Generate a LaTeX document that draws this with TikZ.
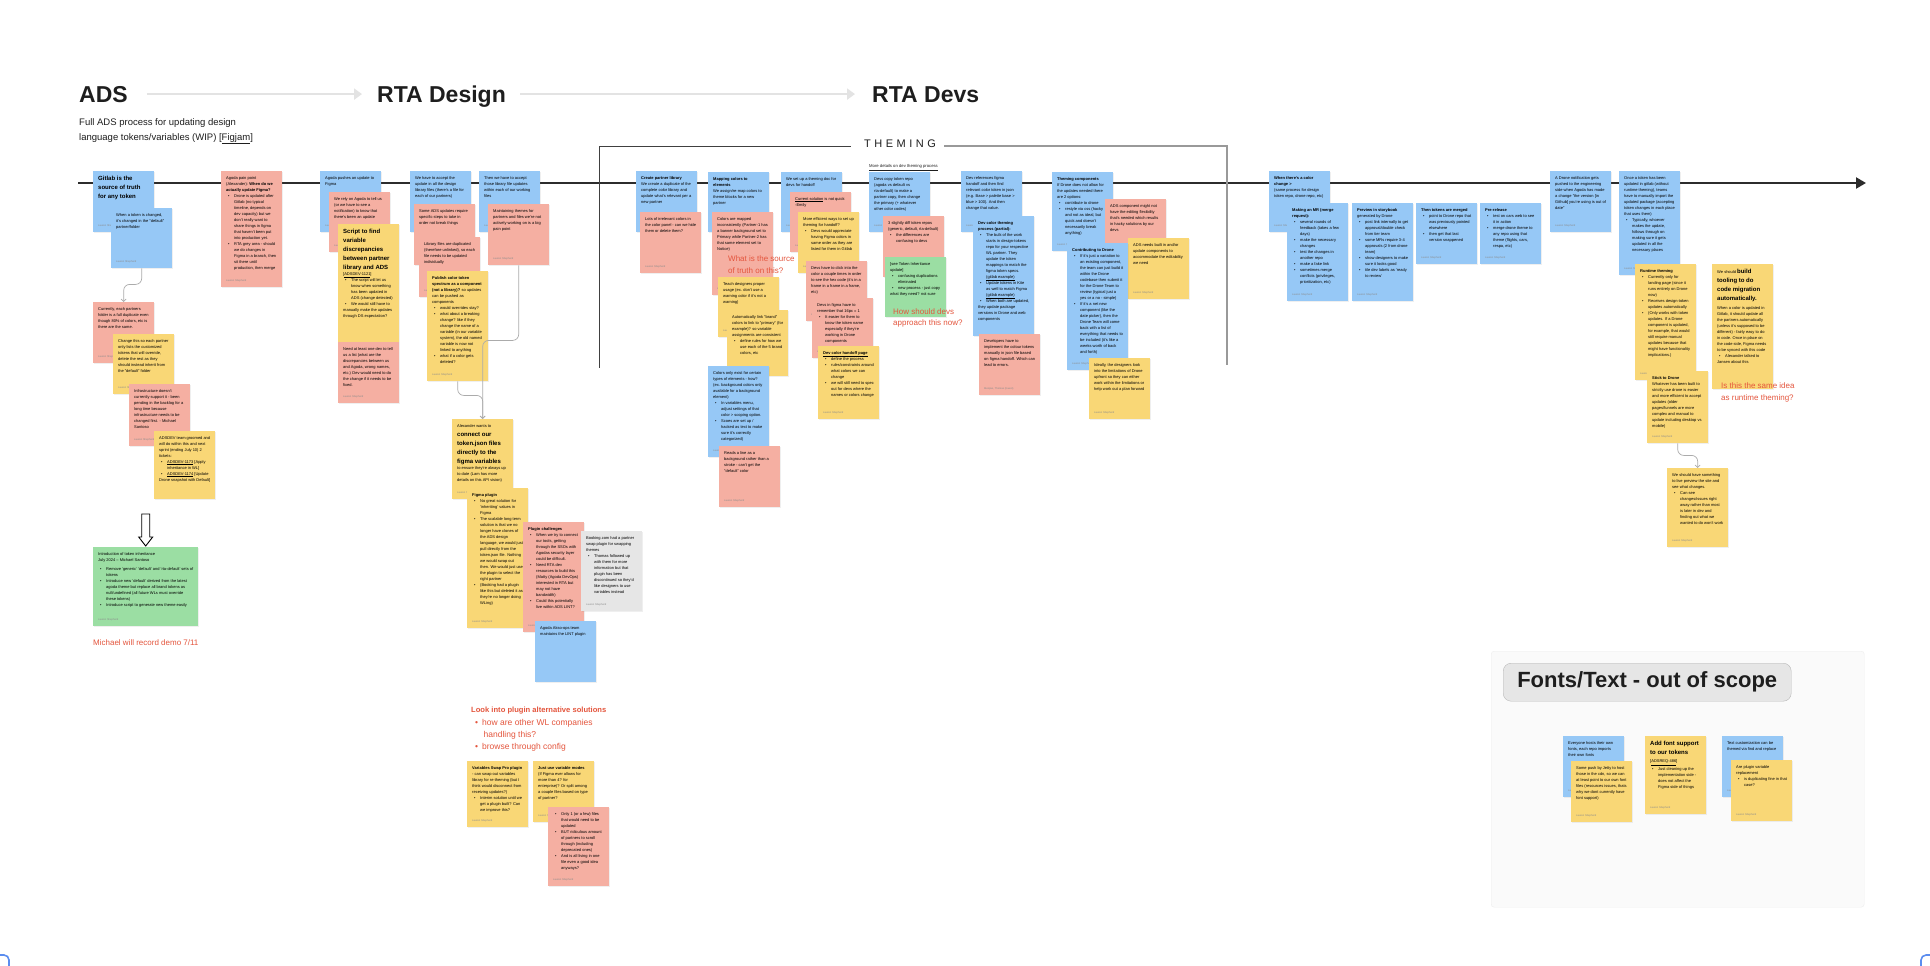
\documentclass[tikz,border=0pt]{standalone}
\usepackage{fontspec}
\setmainfont{Liberation Sans}
\newfontfamily\spacedfont[LetterSpace=32]{Liberation Sans}
\usetikzlibrary{arrows.meta, shadows}
\definecolor{noteBlue}{HTML}{96C8F6}
\definecolor{noteRed}{HTML}{F5AFA2}
\definecolor{noteYellow}{HTML}{F9D776}
\definecolor{noteGreen}{HTML}{9BDEA3}
\definecolor{noteGray}{HTML}{E6E6E6}
\definecolor{boardRed}{HTML}{E4553D}
\definecolor{boardInk}{HTML}{1E1E1E}
\definecolor{boardArrow}{HTML}{E3E3E3}
\definecolor{boardLine}{HTML}{2C2C2C}
\definecolor{linkGray}{HTML}{ABABAB}
\definecolor{markBlue}{HTML}{5B8DEF}

\newcommand{\notefont}{\fontsize{4}{6}\selectfont}
\newcommand{\notebig}{\fontsize{6}{9}\selectfont\bfseries}
\newcommand{\itm}{\par\hangindent=8pt\hangafter=1\noindent\hspace*{2pt}\makebox[6pt][l]{\textbullet}}
\newcommand{\notesig}[1][Lauren Shepherd]{\par\vfill{\color{black!45}\fontsize{2.6}{3}\selectfont #1\par}}

\begin{document}
\begin{tikzpicture}[x=1pt, y=-1pt,
  note/.style n args={3}{anchor=north west, inner sep=5pt, fill=#1, font=\notefont,
    drop shadow={opacity=0.12, shadow xshift=0.4pt, shadow yshift=-0.8pt},
    execute at begin node={\begin{minipage}[t][\dimexpr#2-10pt\relax][t]{#3}\raggedright},
    execute at end node={\end{minipage}}},
  bluenote/.style={note={noteBlue}{#1}{51pt}}, bluenote/.default=61pt,
  rednote/.style={note={noteRed}{#1}{51pt}}, rednote/.default=61pt,
  yellownote/.style={note={noteYellow}{#1}{51pt}}, yellownote/.default=61pt,
  greennote/.style={note={noteGreen}{#1}{51pt}}, greennote/.default=61pt,
  graynote/.style={note={noteGray}{#1}{51pt}}, graynote/.default=61pt,
  phase/.style={anchor=base west, inner sep=0pt, text=boardInk, font=\fontsize{23}{28}\selectfont\bfseries},
  phasearrow/.style={draw=boardArrow, line width=2pt, -{Triangle[length=8pt,width=11pt]}},
  timeline/.style={draw=boardLine, line width=2.2pt, -{Triangle[length=10pt,width=11pt]}},
  annot/.style={anchor=north west, inner sep=0pt, align=left, text=boardRed, font=\fontsize{8}{12}\selectfont},
  link/.style={draw=linkGray, line width=0.7pt, rounded corners=6pt, -{Straight Barb[length=2.5pt,width=5pt]}},
  framemark/.style={draw=markBlue, line width=1.6pt, rounded corners=5pt}
]
\useasboundingbox[fill=white] (0,0) rectangle (1930,966);

% phases
\node[phase] (ads) at (79,102) {ADS};
\node[phase] (rtadesign) at (377,102) {RTA Design};
\node[phase] (rtadevs) at (872,102) {RTA Devs};
\draw[phasearrow, shorten <=19pt, shorten >=15pt] (ads.east) -- (rtadesign.west |- ads.east);
\draw[phasearrow, shorten <=14pt, shorten >=17pt] (rtadesign.east |- ads.east) -- (rtadevs.west |- ads.east);
\node[anchor=north west, inner sep=0pt, align=left, text=boardInk, font=\fontsize{9.5}{15}\selectfont] (intro) at (79,118)
  {Full ADS process for updating design\\language tokens/variables (WIP) [\underline{Figjam}]};

% timeline and theming bracket
\coordinate (tlstart) at (78,183);
\coordinate (tlend) at (1866,183);
\draw[timeline] (tlstart) -- (tlend);
\node[inner sep=0pt, text=boardInk, font=\fontsize{11}{13}\spacedfont] (theming) at (900,144) {THEMING};
\coordinate (themeleft) at (599,368);
\coordinate (themeright) at (1227,365);
\draw[draw=black!75, line width=1pt] ([xshift=-13pt, yshift=-2pt]theming.west) -| (themeleft);
\draw[draw=black!40, line width=1.3pt] ([xshift=8pt, yshift=-2pt]theming.east) -| (themeright);
\node[anchor=base west, inner sep=0pt, text=boardInk, font=\fontsize{4.2}{5}\selectfont] (details) at (869,167.5)
  {\underline{More details on dev theming process}};

% ADS
\node[bluenote] (gitlab) at (93,171) {{\notebig Gitlab is the source of truth for any token\par}\notesig};
\node[bluenote=60pt] (tokenchange) at (111,208) {When a token is changed, it's changed in the "default" partner/folder\notesig};
\node[rednote] (duplicate) at (93,302) {Currently, each partners folder is a full duplicate even though 80\% of colors, etc is there are the same.\notesig};
\node[yellownote=60pt] (inherit) at (113,334) {Change this so each partner only lists the customized tokens that will override, delete the rest as they should instead inherit from the "default" folder\notesig};
\node[rednote=62pt] (infra) at (129,384) {Infrastructure doesn't currently support it - been pending in the backlog for a long time because infrastructure needs to be changed first. - Michael Santoso\notesig};
\node[yellownote=68pt] (tickets) at (154,431) {ADSDEV team groomed and will do within this and next sprint (ending July 10) 2 tickets:
  \itm \underline{ADSDEV-1173} [Apply inheritance in WL]
  \itm \underline{ADSDEV-1174} [Update Drone snapshot with Default]};
\node[note={noteGreen}{79pt}{95pt}] (tokeninherit) at (93,547) {Introduction of token inheritance\\
  July 2024 -- Michael Santoso\par\vspace{3pt}
  \itm Remove 'generic' 'default' and 'rta-default' sets of tokens
  \itm Introduce new 'default' derived from the latest agoda theme but replace all brand tokens as null/undefined (all future WLs must override these tokens)
  \itm Introduce script to generate new theme easily\notesig};
\draw[fill=white, draw=black, line width=0.9pt] ([yshift=1pt]tokeninherit.north) -- ++(-7,-9) -- ++(3,0) -- ++(0,-23) -- ++(8,0) -- ++(0,23) -- ++(3,0) -- cycle;
\node[annot] (demo) at (93,639) {Michael will record demo 7/11};
\node[rednote=116pt] (painpoint) at (221,171) {Agoda pain point (Alexander): \textbf{When do we actually update Figma?}
  \itm Drone is updated after Gitlab (no typical timeline, depends on dev capacity) but we don't really want to share things in figma that haven't been put into production yet.
  \itm RTA grey area - should we do changes in Figma in a branch, then sit there until production, then merge\notesig};

% RTA Design
\node[bluenote] (agodapush) at (320,171) {Agoda pushes an update to Figma\notesig};
\node[rednote=60pt] (notify) at (329,192) {We rely on Agoda to tell us (or we have to see a notification) to know that there's been an update\notesig};
\node[yellownote=118pt] (script) at (338,224) {{\notebig Script to find variable discrepancies between partner library and ADS\par}
  [\underline{ADSDEV-1121}]
  \itm The script will let us know when something has been updated in ADS (change detected)
  \itm We would still have to manually make the updates through DS expectation?};
\node[rednote] (needdev) at (338,342) {Need at least one dev to tell us a list (what are the discrepancies between us and Agoda, wrong names, etc.) Dev would need to do the change if it needs to be fixed.\notesig};
\node[bluenote] (acceptall) at (410,171) {We have to accept the update in all the design library files (there's a file for each of our partners)\notesig};
\node[rednote] (adssteps) at (414,204) {Some ADS updates require specific steps to take in order not break things\notesig};
\node[rednote=60pt] (dupfiles) at (419,237) {Library files are duplicated (therefore unlinked), so each file needs to be updated individually\notesig};
\node[yellownote=110pt] (publish) at (427,271) {\textbf{Publish color token spectrum as a component (not a library)?} so updates can be pushed as components
  \itm would overrides stay?
  \itm what about a breaking change? like if they change the name of a variable (in our variable system), the old named variable is now not linked to anything
  \itm what if a color gets deleted?\notesig};
\node[bluenote] (acceptfiles) at (479,171) {Then we have to accept those library file updates within each of our working files\notesig};
\node[rednote] (maintain) at (488,204) {Maintaining themes for partners and files we're not actively working on is a big pain point\notesig};
\node[yellownote=80pt] (tokenjson) at (452,419) {Alexander wants to\par
  {\notebig connect our token.json files directly to the figma variables\par}
  to ensure they're always up to date (Lam has more details on this API vision)\notesig};
\draw[link] (maintain.south) -- ++(0,75) -| (tokenjson.north);
\draw[link] (publish.south) -- ++(0,14) -| (tokenjson.north);
\node[yellownote=140pt] (figmaplugin) at (467,488) {\textbf{Figma plugin}
  \itm No great solution for 'inheriting' values in Figma
  \itm The scalable long term solution is that we no longer have clones of the ADS design language, we would just pull directly from the token.json file. Nothing we would swap out then. We would just use the plugin to select the right partner
  \itm (Booking had a plugin like this but deleted it as they're no longer doing WLing)\notesig};
\node[rednote=110pt] (pluginchal) at (523,522) {\textbf{Plugin challenges}
  \itm When we try to connect our tools, getting through the SSOs with Agodas security layer could be difficult.
  \itm Need RTA dev resources to build this (Matty (Agoda DevOps) interested in RTA but may not have bandwidth)
  \itm Could this potentially live within ADS LINT?\notesig};
\node[graynote=80pt] (booking) at (581,531) {Booking.com had a partner swap plugin for swapping themes
  \itm Thomas followed up with them for more information but that plugin has been discontinued so they'd like designers to use variables instead\notesig};
\node[bluenote] (lint) at (535,621) {Agoda Akso-ops team maintains the LINT plugin};
\node[anchor=north west, inner sep=0pt, align=left, text=boardRed, font=\fontsize{8.5}{12.3}\selectfont] (pluginalt) at (471,707)
  {{\fontsize{7.6}{12.3}\selectfont\bfseries Look into plugin alternative solutions}\\
   \hspace*{4pt}\textbullet\hspace{4pt}how are other WL companies\\
   \hspace*{12.5pt}handling this?\\
   \hspace*{4pt}\textbullet\hspace{4pt}browse through config};
\node[yellownote=66pt] (swappro) at (467,761) {\textbf{Variables Swap Pro plugin} - can swap out variables library for re-theming (but I think would disconnect from receiving updates?)
  \itm Interim solution until we get a plugin built? Can we improve this?\notesig};
\node[yellownote] (modes) at (533,761) {\textbf{Just use variable modes}\\ (If Figma ever allows for more than 4? for enterprise)? Or split among a couple files based on type of partner?\notesig};
\node[rednote=79pt] (onefile) at (548,807) {\itm Only 1 (or a few) files that would need to be updated
  \itm BUT ridiculous amount of partners to scroll through (including deprecated ones)
  \itm And is all living in one file even a good idea anyways?\notesig};

% RTA Devs / theming
\node[bluenote] (partnerlib) at (636,171) {\textbf{Create partner library}\\ We create a duplicate of the complete color library and update what's relevant per a new partner\notesig};
\node[rednote] (irrelevant) at (640,212) {Lots of irrelevant colors in the color panel - can we hide them or delete them?\notesig};
\node[bluenote=60pt] (mapping) at (708,172) {\textbf{Mapping colors to elements}\\ We assign/re-map colors to theme blocks for a new partner\notesig};
\node[rednote=83pt] (inconsistent) at (712,212) {Colors are mapped inconsistently (Partner-1 has a banner background set to Primary while Partner-2 has that same element set to Notice)\notesig};
\node[annot] (sourcenote) at (728,256) {What is the source\\of truth on this?};
\node[yellownote=60pt] (teach) at (718,277) {Teach designers proper usage (ex. don't use a warning color if it's not a warning)\notesig};
\node[yellownote=66pt] (autolink) at (727,310) {Automatically link "brand" colors to link to "primary" (for example)? so variable assignments are consistent
  \itm define rules for how we use each of the 5 brand colors, etc\notesig};
\node[bluenote=91pt] (scoping) at (708,366) {Colors only exist for certain types of elements - how? (ex. background colors only available for a background element)
  \itm In variables menu, adjust settings of that color > scoping option.
  \itm Scoes are set up / hacked as text to make sure it's correctly categorized)\notesig};
\node[rednote] (readsline) at (719,446) {Reads a line as a background rather than a stroke - can't get the "default" color\notesig};
\node[bluenote=60pt] (themingdoc) at (781,172) {We set up a theming doc for devs for handoff\notesig};
\node[rednote=60pt] (notquick) at (790,192) {\underline{Current solution} is not quick -Emily\notesig};
\node[yellownote] (efficient) at (798,212) {More efficient ways to set up theming for handoff?
  \itm Devs would appreciate having Figma colors in same order as they are listed for them in Gitlab\notesig};
\node[rednote=60pt] (hexcode) at (806,261) {Devs have to click into the color a couple times in order to see the hex code (it's in a frame in a frame in a frame, etc)\notesig};
\node[rednote=60pt] (remember) at (812,298) {Devs in figma have to remember that 16px = 1
  \itm It easier for them to know the token name especially if they're working in Drone components\notesig};
\node[yellownote=73pt] (handoffpage) at (818,346) {\textbf{\underline{Dev color handoff page}}
  \itm define the process
  \itm rules/constraints around what colors we can change
  \itm we will still need to spec out for devs where the names or colors change\notesig};
\node[bluenote=60pt] (copyrepo) at (869,172) {Devs copy token repo (agoda vs default vs rta-default) to make a partner copy, then change the primary (+ whatever other color codes)\notesig};
\node[rednote] (threerepos) at (883,216) {3 slightly diff token repos (generic, default, rta-default)
  \itm the differences are confusing to devs\notesig};
\node[greennote=60pt] (seeupdate) at (885,257) {[see Token Inheritance update]
  \itm confusing duplications eliminated
  \itm new process - just copy what they need? not sure};
\node[annot] (devsnote) at (893,308) {How should devs\\approach this now?};
\node[bluenote] (devref) at (961,171) {Dev references figma handoff and then find relevant color token in json (e.g. Base > palette base > blue > 100). And then change that value.\notesig};
\node[bluenote=120pt] (devprocess) at (973,216) {\textbf{Dev color theming process (partial):}
  \itm The bulk of the work starts in design-tokens repo for your respective WL partner. They update the token mappings to match the figma token specs. \underline{(gitlab example)}
  \itm Update tokens in Kite as well to match Figma \underline{(gitlab example)}
  \itm When both are updated, they update package versions in Drone and web components};
\node[rednote] (manualjson) at (979,334) {Developers have to implement the colour tokens manually in json file based on figma handoff. Which can lead to errors.\notesig[Meiqiao, Thomas (Guest)]};
\node[bluenote=79pt] (themecomp) at (1052,172) {\textbf{Theming components}\\ If Drone does not allow for the updates needed there are 2 options:
  \itm contribute to drone
  \itm restyle via css (hacky and not as ideal, but quick and doesn't necessarily break anything)\notesig};
\node[rednote] (flex) at (1105,199) {ADS component might not have the editing flexibility that's needed which results in hacky solutions by our devs\notesig};
\node[yellownote] (builtin) at (1128,238) {ADS needs built in and/or update components to accommodate the editability we need\notesig};
\node[bluenote=127pt] (contribute) at (1067,243) {\textbf{Contributing to Drone}
  \itm If it's just a variation to an existing component, the team can just build it within the Drone codebase then submit it for the Drone Team to review (typical just a yes or a no - simple)
  \itm If it's a net new component (like the date picker), then the Drone Team will come back with a list of everything that needs to be included (it's like a weeks worth of back and forth)\notesig};
\node[yellownote] (ideally) at (1089,358) {Ideally, the designers look into the limitations of Drone upfront so they can either work within the limitations or help work out a plan forward\notesig};

% release steps
\node[bluenote] (colorchange) at (1269,171) {\textbf{When there's a color change >}\\ (same process for design token repo, drone repo, etc)\notesig};
\node[bluenote=98pt] (mergereq) at (1287,203) {\textbf{Making an MR (merge request):}
  \itm several rounds of feedback (takes a few days)
  \itm make the necessary changes
  \itm test the changes in another repo
  \itm make a fake link
  \itm sometimes merge conflicts (privileges, prioritization, etc)\notesig};
\node[bluenote=98pt] (storybook) at (1352,203) {\textbf{Preview in storybook}\\ generated by Drone
  \itm post link internally to get approval/double check from tier team
  \itm some MRs require 3-4 approvals (2 from drone team)
  \itm show designers to make sure it looks good
  \itm tile dev labels as 'ready to review'\notesig};
\node[bluenote] (merged) at (1416,203) {\textbf{Then tokens are merged}
  \itm point to Drone repo that was previously pointed elsewhere
  \itm then get that last version snappened\notesig};
\node[bluenote] (prerelease) at (1480,203) {\textbf{Pre-release}
  \itm test on cars web to see it in action
  \itm merge drone theme to any repo using that theme (flights, cars, respa, etc)\notesig};
\node[bluenote] (dronenotify) at (1550,171) {A Drone notification gets pushed to the engineering side when Agoda has made a change "the version [in Github] you're using is out of date"\notesig};
\node[bluenote=104pt] (manualimport) at (1619,171) {Once a token has been updated in gitlab (without runtime theming), teams have to manually import the updated package (accepting token changes in each place that uses them)
  \itm Typically, whoever makes the update, follows through on making sure it gets updated in all the necessary places\notesig};
\node[yellownote=116pt] (runtime) at (1635,264) {\textbf{Runtime theming}
  \itm Currently only for landing page (since it runs entirely on Drone now)
  \itm Receives design-token updates automatically
  \itm (Only works with token updates. If a Drone component is updated, for example, that would still require manual updates because that might have functionality implications.)\notesig};
\node[yellownote=72pt] (sticktodrone) at (1647,371) {\textbf{Stick to Drone}\\ Whatever has been built to strictly use drone is easier and more efficient to accept updates (older pages/funnels are more complex and manual to update including desktop vs mobile)\notesig};
\node[yellownote=79pt] (livepreview) at (1667,468) {We should have something to live preview the site and see what changes.
  \itm Can see changes/issues right away rather than most is later in dev and finding out what we wanted to do won't work\notesig};
\draw[link] (sticktodrone.south) -- ++(0,12) -| (livepreview.north);
\node[yellownote=125pt] (codemig) at (1712,264) {We should {\notebig build tooling to do code migration automatically.\par}
  \vspace{3pt}When a color is updated in Gitlab, it should update all the partners automatically (unless it's supposed to be different) - fairly easy to do in code. Once in place on the code side, Figma needs to be synced with this code
  \itm Alexander talked to Jansen about this};
\node[annot] (runtimenote) at (1721,382) {Is this the same idea\\as runtime theming?};

% out of scope
\node[anchor=north west, minimum width=373pt, minimum height=256pt, fill=black!2, draw=black!7, rounded corners=3pt] (fontpanel) at (1491,651) {};
\node[anchor=north west, minimum width=288pt, minimum height=38pt, fill=noteGray, draw=black!28, rounded corners=8pt,
  text=boardInk, font=\fontsize{22}{26}\selectfont\bfseries] (outofscope) at (1503,663) {Fonts/Text - out of scope};
\node[bluenote] (hostfonts) at (1563,736) {Everyone hosts their own fonts, each repo imports their own fonts\notesig};
\node[yellownote] (cdn) at (1571,761) {Some push by Jetty to host those in the cdn, so we can at least point to our own font files (resources issues, thats why we dont currently have font support)\notesig};
\node[yellownote=78pt] (fontsupport) at (1645,736) {{\notebig Add font support to our tokens\par}\vspace{2pt}
  [\underline{ADSREQ-486}]\par\vspace{2pt}
  \itm Just cleaning up the implementation side - does not affect the Figma side of things\notesig};
\node[bluenote] (findreplace) at (1722,736) {Text customization can be themed via find and replace\notesig};
\node[yellownote] (pluginrepl) at (1731,760) {Are plugin variable replacement
  \itm is duplicating fine in that case?\notesig};

\draw[link] (tokenchange.south) -- ++(0,16) -| (duplicate.north);

% frame corners
\draw[framemark] (0,955) -- (9,955) -- (9,966);
\draw[framemark] (1930,955) -- (1921,955) -- (1921,966);
\end{tikzpicture}
\end{document}
